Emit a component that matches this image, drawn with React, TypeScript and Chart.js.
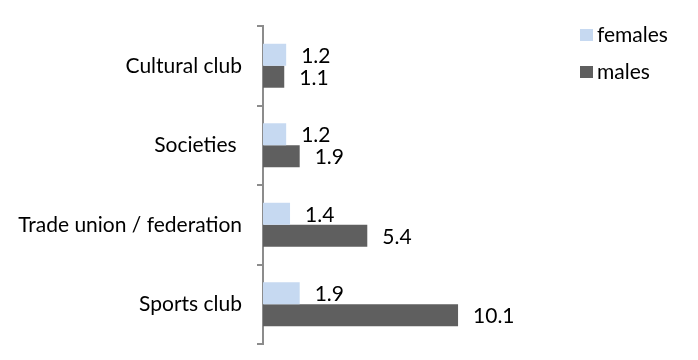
import { useEffect, useRef } from "react";
import { Chart, registerables } from "chart.js";
Chart.register(...registerables);

const categories = ["Cultural club", "Societies ", "Trade union / federation", "Sports club"];
const females = [1.2, 1.2, 1.4, 1.9];
const males = [1.1, 1.9, 5.4, 10.1];
const seriesNames = ["females", "males"];
const seriesColors = ["#C6D9F1", "#5F5F5F"];
const xMax = 16;

const FONT = "Lato, 'Open Sans', sans-serif";
const FONT_SIZE = 21;

export default function App() {
  const ref = useRef<HTMLCanvasElement>(null);
  useEffect(() => {
    if (!ref.current) return;
    const valueLabels = {
      id: "valueLabels",
      afterDatasetsDraw(chart: any) {
        const ctx = chart.ctx;
        ctx.save();
        ctx.font = `${FONT_SIZE}px ${FONT}`;
        ctx.fillStyle = "#000";
        ctx.textAlign = "left";
        ctx.textBaseline = "middle";
        chart.data.datasets.forEach((ds: any, i: number) => {
          const meta = chart.getDatasetMeta(i);
          meta.data.forEach((bar: any, j: number) => {
            const v = ds.data[j] as number;
            ctx.fillText(v.toFixed(1), bar.x + 15, bar.y + 1);
          });
        });
        ctx.restore();
      },
    };
    const legendPlugin = {
      id: "customLegend",
      afterDraw(chart: any) {
        const ctx = chart.ctx;
        ctx.save();
        ctx.font = `${FONT_SIZE}px ${FONT}`;
        ctx.textAlign = "left";
        ctx.textBaseline = "middle";
        const x0 = 572;
        const y0 = 27;
        const step = 37;
        chart.data.datasets.forEach((ds: any, i: number) => {
          const cy = y0 + i * step;
          ctx.fillStyle = ds.backgroundColor;
          ctx.fillRect(x0, cy - 6, 13, 12);
          ctx.fillStyle = "#000";
          ctx.fillText(ds.label, x0 + 17, cy);
        });
        ctx.restore();
      },
    };
    const chart = new Chart(ref.current, {
      type: "bar",
      data: {
        labels: categories,
        datasets: [
          { label: seriesNames[0], data: females, backgroundColor: seriesColors[0], categoryPercentage: 0.553, barPercentage: 1 },
          { label: seriesNames[1], data: males, backgroundColor: seriesColors[1], categoryPercentage: 0.553, barPercentage: 1 },
        ],
      },
      options: {
        indexAxis: "y",
        animation: false,
        responsive: true,
        maintainAspectRatio: false,
        layout: { padding: { top: 18, bottom: 8, left: 0, right: 118 } },
        plugins: {
          legend: { display: false },
          tooltip: { enabled: false },
        },
        scales: {
          x: {
            display: false,
            min: 0,
            max: xMax,
          },
          y: {
            grid: {
              display: true,
              drawOnChartArea: false,
              drawTicks: true,
              tickLength: 6,
              color: "#8C8C8C",
              lineWidth: 2,
              offset: true,
            },
            border: { display: true, color: "#8C8C8C", width: 2 },
            ticks: {
              padding: 15,
              color: "#000",
              font: { family: FONT, size: FONT_SIZE },
            },
            afterFit(scale: any) {
              scale.width = 255;
              scale.paddingTop = 0;
              scale.paddingBottom = 0;
            },
          },
        },
      },
      plugins: [valueLabels, legendPlugin],
    });
    return () => chart.destroy();
  }, []);
  return (
    <div style={{ width: 682, height: 344, position: "relative" }}>
      <canvas ref={ref} />
    </div>
  );
}
